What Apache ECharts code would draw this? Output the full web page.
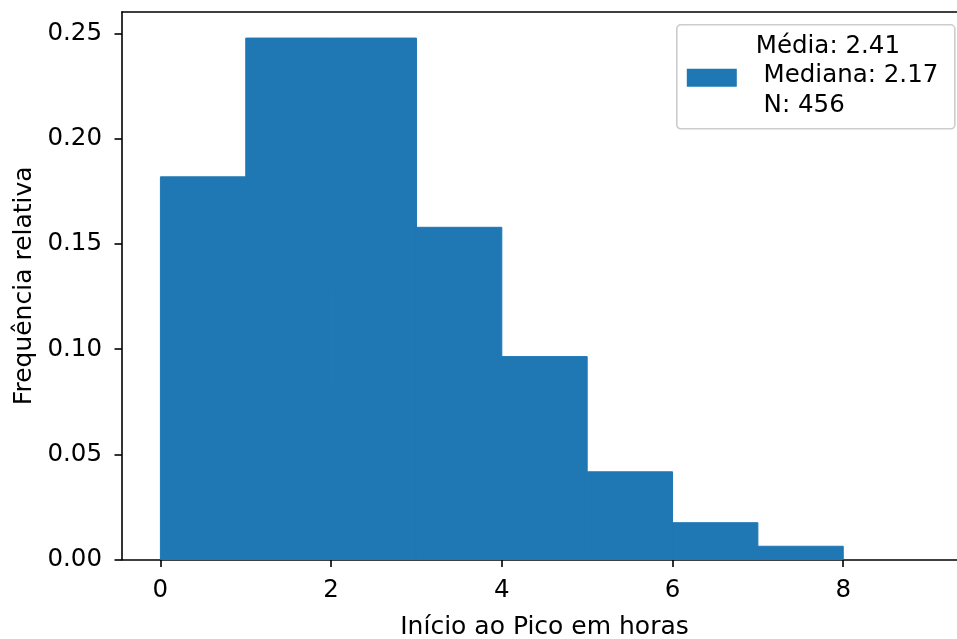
<!DOCTYPE html>
<html>
<head>
<meta charset="utf-8">
<script src="https://cdn.jsdelivr.net/npm/echarts@6/dist/echarts.min.js"></script>
<style>
  html, body { margin: 0; padding: 0; background: #ffffff; }
  #chart { width: 957px; height: 639px; }
</style>
</head>
<body>
<div id="chart"></div>
<script>
// Histogram bins (hours) and relative frequency per bin
const binStart = [0, 1, 2, 3, 4, 5, 6, 7];
const binEnd = [1, 2, 3, 4, 5, 6, 7, 8];
const relFreq = [0.182, 0.248, 0.248, 0.158, 0.0965, 0.0417, 0.0175, 0.0063];

// Tick values shown on each axis
const xTicks = [0, 2, 4, 6, 8];
const yTicks = [0, 0.05, 0.10, 0.15, 0.20, 0.25];

// Legend text (summary statistics)
const legendLines = ['Média: 2.41', ' Mediana: 2.17', ' N: 456'];

const BAR_COLOR = '#1f77b4';
const FONT = 'DejaVu Sans';
const FS = 24.5;

const rows = binStart.map((s, i) => [s, binEnd[i], relFreq[i]]);
const yMax = Math.max(...relFreq) * 1.05;

// x range: bins span 0..9 with 5% padding on each side; the frame runs on
// past the right edge of the canvas
const X_MIN = -0.45;
const X_MAX = 9.45;

const chart = echarts.init(document.getElementById('chart'), null, { renderer: 'canvas' });

const axisText = { fontFamily: FONT, fontSize: FS, color: '#000000' };
const nameText = { fontFamily: FONT, fontSize: 25, color: '#000000' };
const blackLine = { color: '#000000', width: 1.6 };

chart.setOption({
  animation: false,
  backgroundColor: '#ffffff',
  textStyle: { fontFamily: FONT },
  grid: { left: 122, top: 12, width: 845, height: 547.5, show: false, outerBoundsMode: 'none' },
  xAxis: [{
    type: 'value',
    min: X_MIN, max: X_MAX,
    position: 'bottom',
    name: 'Início ao Pico em horas',
    nameLocation: 'middle', nameGap: 55,
    nameTextStyle: nameText,
    axisLine: { show: true, onZero: false, lineStyle: blackLine },
    axisTick: { show: true, length: 7.5, customValues: xTicks, lineStyle: blackLine },
    axisLabel: Object.assign({ show: true, customValues: xTicks, margin: 18.5,
      formatter: v => String(v) }, axisText),
    splitLine: { show: false }
  }, {
    // top frame line
    type: 'value',
    min: X_MIN, max: X_MAX,
    position: 'top',
    axisLine: { show: true, onZero: false, lineStyle: blackLine },
    axisTick: { show: false },
    axisLabel: { show: false },
    splitLine: { show: false }
  }],
  yAxis: {
    type: 'value',
    min: 0, max: yMax,
    name: 'Frequência relativa',
    nameLocation: 'middle', nameGap: 84, nameRotate: 90,
    nameTextStyle: nameText,
    axisLine: { show: true, onZero: false, lineStyle: blackLine },
    axisTick: { show: true, length: 7.5, customValues: yTicks, lineStyle: blackLine },
    axisLabel: Object.assign({ show: true, customValues: yTicks, margin: 20,
      formatter: v => v.toFixed(2) }, axisText),
    splitLine: { show: false }
  },
  graphic: [{
    // legend box with the summary statistics
    type: 'group',
    left: 676, top: 24,
    children: [{
      type: 'rect',
      shape: { x: 0, y: 0, width: 278, height: 104, r: 4 },
      style: { fill: 'rgba(255,255,255,0.8)', stroke: '#cccccc', lineWidth: 1.6 }
    }, {
      type: 'rect',
      shape: { x: 10, y: 44, width: 50, height: 18 },
      style: { fill: BAR_COLOR }
    }, {
      type: 'text',
      x: 79, y: 51,
      style: {
        text: legendLines.join('\n'),
        font: FS + 'px "' + FONT + '"',
        fill: '#000000',
        lineHeight: 29.5,
        align: 'left',
        verticalAlign: 'middle'
      }
    }]
  }],
  series: [{
    name: 'hist',
    type: 'custom',
    xAxisIndex: 0,
    itemStyle: { color: BAR_COLOR },
    encode: { x: [0, 1], y: 2 },
    data: rows,
    renderItem: (params, api) => {
      const top = api.coord([api.value(0), api.value(2)]);
      const base = api.coord([api.value(1), 0]);
      return {
        type: 'rect',
        shape: { x: top[0], y: top[1], width: base[0] - top[0], height: base[1] - top[1] },
        style: { fill: BAR_COLOR, stroke: BAR_COLOR, lineWidth: 1 }
      };
    }
  }]
});
</script>
</body>
</html>
